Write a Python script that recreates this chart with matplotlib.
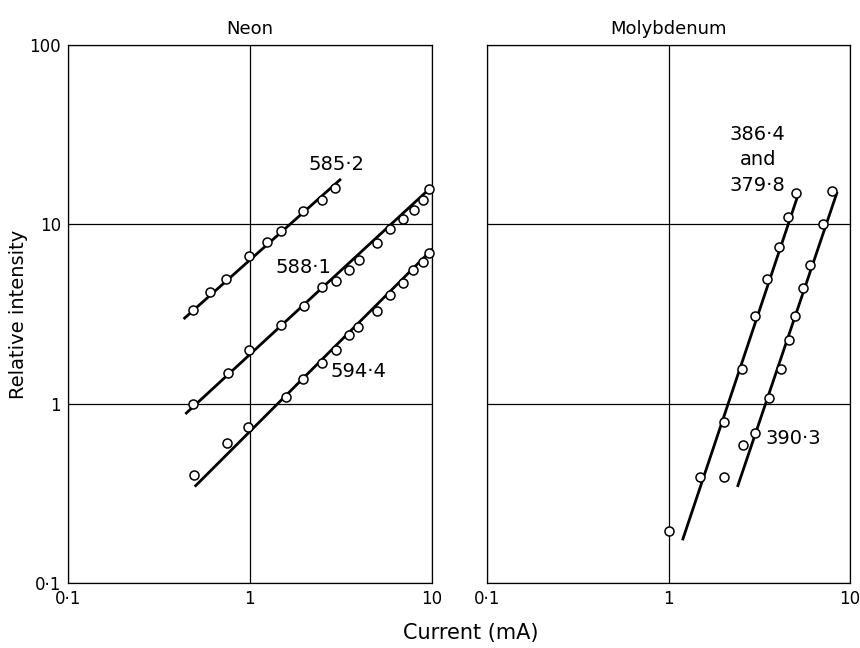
import matplotlib
matplotlib.use("Agg")
import matplotlib.pyplot as plt

plt.rcParams['font.family'] = ['DejaVu Sans']

# Neon lines (current mA, relative intensity)
ne_585_x = [0.487, 0.607, 0.744, 0.99, 1.236, 1.48, 1.97, 2.49, 2.95]
ne_585_y = [3.31, 4.19, 4.97, 6.65, 7.99, 9.17, 11.8, 13.7, 15.9]
ne_585_fit_x = [0.438, 3.13]
ne_585_fit_y = [3.0, 17.7]

ne_588_x = [0.487, 0.759, 0.987, 1.48, 1.98, 2.48, 2.97, 3.51, 3.97, 4.99, 5.91, 6.94, 8.04, 8.94, 9.72]
ne_588_y = [1.0, 1.49, 2.0, 2.75, 3.52, 4.47, 4.80, 5.58, 6.34, 7.86, 9.40, 10.7, 12.0, 13.6, 15.7]
ne_588_fit_x = [0.448, 10.0]
ne_588_fit_y = [0.887, 16.2]

ne_594_x = [0.491, 0.750, 0.975, 1.58, 1.97, 2.48, 2.97, 3.51, 3.95, 4.99, 5.91, 6.94, 7.94, 8.94, 9.72]
ne_594_y = [0.402, 0.604, 0.744, 1.09, 1.38, 1.69, 2.0, 2.40, 2.67, 3.28, 4.01, 4.72, 5.53, 6.16, 6.91]
ne_594_fit_x = [0.504, 10.0]
ne_594_fit_y = [0.349, 7.21]

# Molybdenum lines
mo_386_x = [5.05, 4.56, 4.05, 3.51, 3.01, 2.54, 2.01, 1.50, 1.0]
mo_386_y = [14.9, 11.05, 7.43, 4.97, 3.07, 1.57, 0.791, 0.392, 0.194]
mo_386_fit_x = [1.2, 5.14]
mo_386_fit_y = [0.176, 14.3]

mo_390_x = [7.98, 7.12, 6.01, 5.52, 4.95, 4.60, 4.14, 3.58, 2.99, 2.57, 2.01]
mo_390_y = [15.4, 10.07, 5.95, 4.44, 3.07, 2.27, 1.57, 1.08, 0.687, 0.586, 0.392]
mo_390_fit_x = [2.41, 8.45]
mo_390_fit_y = [0.349, 14.9]

x_ticks = [0.1, 1, 10]
x_tick_labels = ['0·1', '1', '10']
y_ticks = [0.1, 1, 10, 100]
y_tick_labels = ['0·1', '1', '10', '100']

fig = plt.figure(figsize=(8.6, 6.48), dpi=100)
ax1 = fig.add_axes([0.079, 0.1003, 0.423, 0.8303])
ax2 = fig.add_axes([0.5663, 0.1003, 0.4221, 0.8303])


def setup(ax, title, show_y):
    ax.set_xscale("log")
    ax.set_yscale("log")
    ax.set_xlim(0.1, 10)
    ax.set_ylim(0.1, 100)
    ax.set_xticks(x_ticks)
    ax.set_xticklabels(x_tick_labels)
    ax.set_yticks(y_ticks)
    ax.minorticks_off()
    if show_y:
        ax.set_yticklabels(y_tick_labels)
    else:
        ax.set_yticklabels([])
    ax.tick_params(length=0, labelsize=12, pad=5)
    ax.grid(True, color="black", linewidth=0.9)
    for s in ax.spines.values():
        s.set_linewidth(0.9)
    ax.set_title(title, fontsize=13, pad=8)


def series(ax, x, y, fx, fy):
    ax.plot(fx, fy, color="black", linewidth=2.0, zorder=3)
    ax.plot(x, y, "o", markersize=6.5, markerfacecolor="white",
            markeredgecolor="black", markeredgewidth=1.1, zorder=4,
            clip_on=False)


setup(ax1, "Neon", True)
series(ax1, ne_585_x, ne_585_y, ne_585_fit_x, ne_585_fit_y)
series(ax1, ne_588_x, ne_588_y, ne_588_fit_x, ne_588_fit_y)
series(ax1, ne_594_x, ne_594_y, ne_594_fit_x, ne_594_fit_y)
ax1.text(3.0, 21.5, "585·2", fontsize=14, ha="center", va="center")
ax1.text(1.97, 5.75, "588·1", fontsize=14, ha="center", va="center")
ax1.text(3.97, 1.51, "594·4", fontsize=14, ha="center", va="center")

setup(ax2, "Molybdenum", False)
series(ax2, mo_386_x, mo_386_y, mo_386_fit_x, mo_386_fit_y)
series(ax2, mo_390_x, mo_390_y, mo_390_fit_x, mo_390_fit_y)
ax2.text(3.1, 31.5, "386·4", fontsize=14, ha="center", va="center")
ax2.text(3.1, 22.9, "and", fontsize=14, ha="center", va="center")
ax2.text(3.1, 16.4, "379·8", fontsize=14, ha="center", va="center")
ax2.text(4.85, 0.64, "390·3", fontsize=14, ha="center", va="center")

fig.text(0.021, 0.515, "Relative intensity", rotation=90, fontsize=14,
         ha="center", va="center")
fig.text(0.547, 0.023, "Current (mA)", fontsize=15, ha="center", va="center")

fig.savefig("out.png", dpi=100)
